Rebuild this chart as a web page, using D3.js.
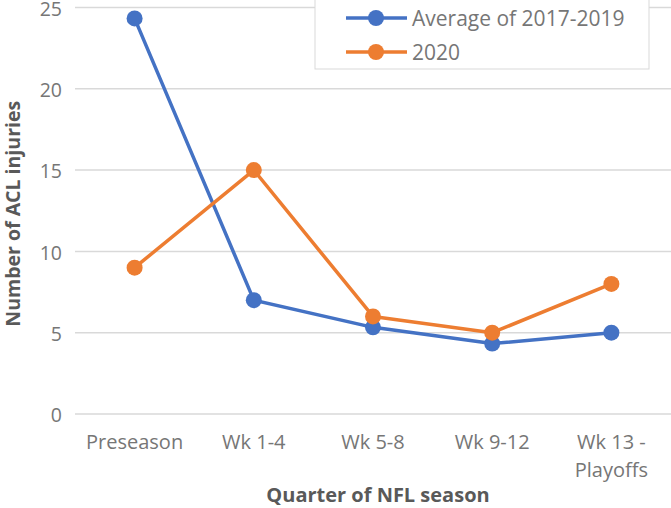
<!DOCTYPE html>
<html>
<head>
<meta charset="utf-8">
<script src="https://cdn.jsdelivr.net/npm/d3@7"></script>
<style>
  html, body { margin: 0; padding: 0; background: #fff; }
  svg { display: block; font-family: "Open Sans", "Noto Sans", sans-serif; }
</style>
</head>
<body>
<svg id="chart" width="671" height="508"></svg>
<script>
const categories = ["Preseason", "Wk 1-4", "Wk 5-8", "Wk 9-12", "Wk 13 - Playoffs"];
const categoryLines = [["Preseason"], ["Wk 1-4"], ["Wk 5-8"], ["Wk 9-12"], ["Wk 13 -", "Playoffs"]];
const avg2017_2019 = [24.33, 7, 5.33, 4.33, 5];
const season2020 = [9, 15, 6, 5, 8];
const seriesNames = ["Average of 2017-2019", "2020"];
const seriesColors = ["#4472C4", "#ED7D31"];
const yTicks = [0, 5, 10, 15, 20, 25];

const svg = d3.select("#chart");
const W = 671, H = 508;
const margin = { left: 75, right: 0, top: 7.5, bottom: 94 };

const x = d3.scaleBand().domain(categories).range([margin.left, W - margin.right]).paddingInner(0).paddingOuter(0);
const y = d3.scaleLinear().domain([0, 25]).range([H - margin.bottom, margin.top]);

// gridlines
svg.append("g").selectAll("line").data(yTicks).join("line")
  .attr("x1", margin.left).attr("x2", W - margin.right)
  .attr("y1", d => y(d)).attr("y2", d => y(d))
  .attr("stroke", "#d9d9d9").attr("stroke-width", 1.5);

// y tick labels
svg.append("g").selectAll("text").data(yTicks).join("text")
  .attr("x", 62).attr("y", d => y(d))
  .attr("dy", "0.42em").attr("text-anchor", "end")
  .attr("fill", "#767676").attr("font-size", 19.5)
  .text(d => d);

// x tick labels
const xl = svg.append("g").selectAll("text").data(categories).join("text")
  .attr("x", d => x(d) + x.bandwidth() / 2)
  .attr("y", 449)
  .attr("text-anchor", "middle")
  .attr("fill", "#767676").attr("font-size", 20);
xl.each(function(d, i) {
  const t = d3.select(this);
  categoryLines[i].forEach((ln, j) => {
    t.append("tspan").attr("x", x(d) + x.bandwidth() / 2).attr("dy", j === 0 ? 0 : 28).text(ln);
  });
});

// axis titles
svg.append("text")
  .attr("transform", `translate(20, ${(y(0) + y(25)) / 2 + 3}) rotate(-90)`)
  .attr("text-anchor", "middle").attr("fill", "#595959")
  .attr("font-size", 19.5).attr("font-weight", "bold")
  .text("Number of ACL injuries");
svg.append("text")
  .attr("x", 378).attr("y", 502)
  .attr("text-anchor", "middle").attr("fill", "#595959")
  .attr("font-size", 20).attr("font-weight", "bold")
  .text("Quarter of NFL season");

// series
const allSeries = [avg2017_2019, season2020];
const line = d3.line().x((d, i) => x(categories[i]) + x.bandwidth() / 2).y(d => y(d));
allSeries.forEach((s, k) => {
  const g = svg.append("g");
  g.append("path").datum(s).attr("d", line)
    .attr("fill", "none").attr("stroke", seriesColors[k]).attr("stroke-width", 3.5)
    .attr("stroke-linejoin", "round");
  g.selectAll("circle").data(s).join("circle")
    .attr("cx", (d, i) => x(categories[i]) + x.bandwidth() / 2)
    .attr("cy", d => y(d)).attr("r", 8)
    .attr("fill", seriesColors[k]);
});

// legend
const lg = svg.append("g");
lg.append("rect").attr("x", 315).attr("y", -1).attr("width", 334).attr("height", 70)
  .attr("fill", "#fff").attr("stroke", "#d9d9d9").attr("stroke-width", 1);
seriesNames.forEach((n, k) => {
  const cy = 18 + k * 34;
  lg.append("line").attr("x1", 346).attr("x2", 407).attr("y1", cy).attr("y2", cy)
    .attr("stroke", seriesColors[k]).attr("stroke-width", 3.5);
  lg.append("circle").attr("cx", 376).attr("cy", cy).attr("r", 8).attr("fill", seriesColors[k]);
  lg.append("text").attr("x", 412).attr("y", cy).attr("dy", "0.36em")
    .attr("fill", "#767676").attr("font-size", 21).text(n);
});
</script>
</body>
</html>
